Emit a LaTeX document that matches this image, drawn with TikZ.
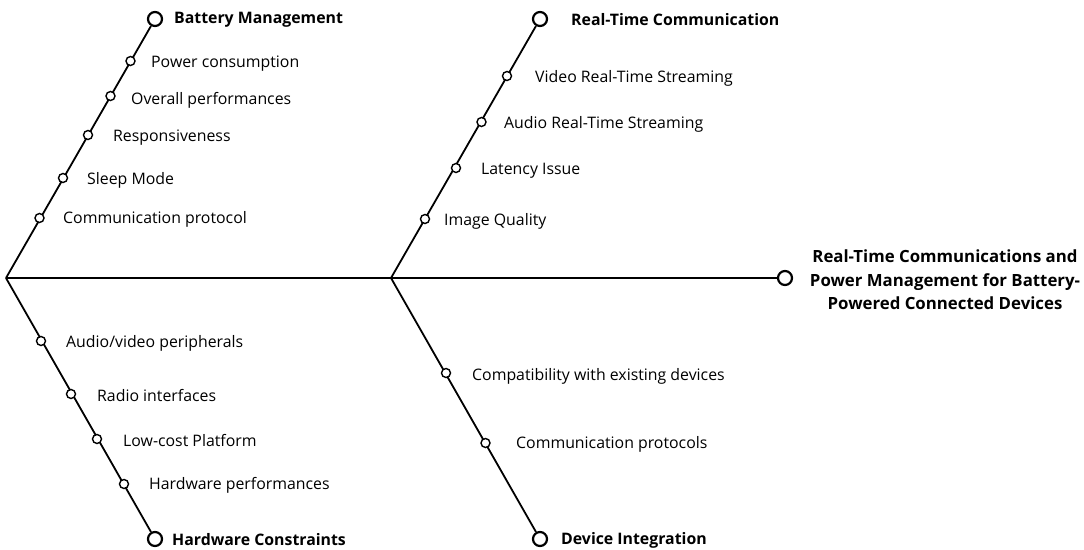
\documentclass[tikz,border=0pt]{standalone}
\usepackage{fontspec}
\setmainfont{Open Sans}
\pgfdeclarelayer{bg}
\pgfsetlayers{bg,main}
\begin{document}
\begin{tikzpicture}[x=1pt,y=-1pt,
  dot/.style={circle,draw,fill=white,line width=1.4pt,minimum size=9pt,inner sep=0pt},
  bigdot/.style={circle,draw,fill=white,line width=2.2pt,minimum size=14pt,inner sep=0pt},
  bone/.style={line width=1.8pt},
  cause/.style={anchor=west,inner sep=0pt,yshift=-1.5pt,font=\fontsize{15.85}{19}\selectfont},
  head/.style={anchor=west,inner sep=0pt,yshift=-1pt,font=\bfseries\fontsize{15.85}{19}\selectfont},
  effect/.style={align=center,inner sep=0pt,font=\bfseries\fontsize{16.8}{23.5}\selectfont}]
\useasboundingbox (0,0) rectangle (1084,549);

% joints on the spine
\coordinate (tail) at (6,278);
\coordinate (mid) at (391,278);

% spine and head
\node[bigdot] (goal) at (785,278) {};
\node[effect] (goaltext) at (945,280) {Real-Time Communications and\\Power Management for Battery-\\Powered Connected Devices};

% category heads
\node[bigdot] (bm) at (155,19) {};
\node[head] (bmt) at (174,19) {Battery Management};
\node[bigdot] (rtc) at (540,19) {};
\node[head] (rtct) at (571,19) {Real-Time Communication};
\node[bigdot] (hc) at (155,539) {};
\node[head] (hct) at (172,539) {Hardware Constraints};
\node[bigdot] (di) at (540,539) {};
\node[head] (dit) at (561,539) {Device Integration};

\begin{pgfonlayer}{bg}
  \draw[bone] (tail) -- (goal);
  \draw[bone] (tail) -- (bm);
  \draw[bone] (tail) -- (hc);
  \draw[bone] (mid) -- (rtc);
  \draw[bone] (mid) -- (di);
\end{pgfonlayer}

% Battery Management causes
\node[dot] (b1) at (130.5,61) {};
\node[cause] at (151,62) {Power consumption};
\node[dot] (b2) at (110.5,96) {};
\node[cause] at (131,99) {Overall performances};
\node[dot] (b3) at (88,135) {};
\node[cause] at (113,136) {Responsiveness};
\node[dot] (b4) at (63,178) {};
\node[cause] at (87,179) {Sleep Mode};
\node[dot] (b5) at (39.5,218) {};
\node[cause] at (63,218) {Communication protocol};

% Real-Time Communication causes
\node[dot] (r1) at (507,76) {};
\node[cause] at (535,77) {Video Real-Time Streaming};
\node[dot] (r2) at (481.5,122) {};
\node[cause] at (504,123) {Audio Real-Time Streaming};
\node[dot] (r3) at (456,168) {};
\node[cause] at (481,169) {Latency Issue};
\node[dot] (r4) at (425,219) {};
\node[cause] at (444,220) {Image Quality};

% Hardware Constraints causes
\node[dot] (h1) at (41,341) {};
\node[cause] at (66,342) {Audio/video peripherals};
\node[dot] (h2) at (71,394) {};
\node[cause] at (97,394) {Radio interfaces};
\node[dot] (h3) at (97,439) {};
\node[cause] at (123,439) {Low-cost Platform};
\node[dot] (h4) at (124,484) {};
\node[cause] at (149,484) {Hardware performances};

% Device Integration causes
\node[dot] (d1) at (446,373) {};
\node[cause] at (472,375) {Compatibility with existing devices};
\node[dot] (d2) at (485.5,443) {};
\node[cause] at (516,443) {Communication protocols};
\end{tikzpicture}
\end{document}
